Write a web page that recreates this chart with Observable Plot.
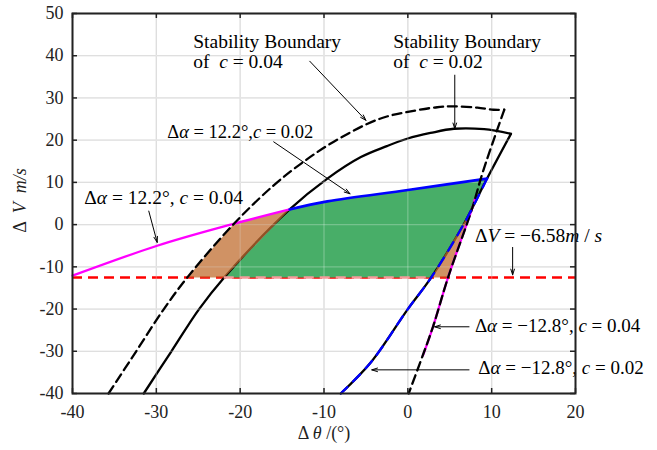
<!DOCTYPE html>
<html><head><meta charset="utf-8">
<script src="https://cdn.jsdelivr.net/npm/d3@7"></script>
<script src="https://cdn.jsdelivr.net/npm/@observablehq/plot@0.6"></script>
<style>
body{margin:0;background:#fff;}
svg text{white-space:pre;}
</style></head><body><div id="chart"></div>
<script>
const xTicks = [-40,-30,-20,-10,0,10,20];
const yTicks = [-40,-30,-20,-10,0,10,20,30,40,50];
const deltaV = -12.5;

// stability boundary c = 0.02 (solid): left branch + top arc, then right branch
const bound02ArcX = [-31.5,-28.2,-24.9,-21.9,-14.1,-9.6,-5.6,-2.5,0,2.7,5.5,9.1,12.3];
const bound02ArcY = [-40,-30,-20,-12.5,3.6,10.9,16.0,18.6,20.4,21.7,22.7,22.6,21.5];
const bound02RightX = [12.3,9.45,6.7,2.8,0,-4.4,-8.0];
const bound02RightY = [21.5,10.9,0.2,-12.5,-20.0,-32.6,-40];
// stability boundary c = 0.04 (dashed)
const bound04ArcX = [-35.7,-32.4,-29.1,-26.3,-20.6,-16.0,-12.5,-9.2,-4.8,-2.5,0,3.5,5.5,8.3,10.2,11.5];
const bound04ArcY = [-40,-30,-20,-12.5,0.5,9.3,14.8,19.2,23.9,25.6,26.7,27.8,28.0,27.7,27.2,27.2];
const bound04RightX = [11.5,9.0,7.6,4.8,3.0,1.5,0.1];
const bound04RightY = [27.2,12.8,3.4,-12.5,-24.2,-32.5,-40];
// Δα = 12.2°, c = 0.04 (magenta)
const magTopX = [-40,-29.9,-21.5,-14.1];
const magTopY = [-12.1,-5.0,-0.2,3.6];
// Δα = 12.2°, c = 0.02 (blue)
const blueTopX = [-14.1,-9.6,0,9.45];
const blueTopY = [3.6,5.5,8.2,10.9];
// Δα = −12.8°, c = 0.04 (magenta)
const magRightX = [8.0,7.6,4.8,3.0,1.8];
const magRightY = [6.0,3.4,-12.5,-24.2,-31.0];
// Δα = −12.8°, c = 0.02 (blue)
const blueRightX = [9.45,6.7,2.8,0,-4.4,-8.0];
const blueRightY = [10.9,0.2,-12.5,-20,-32.6,-40];
// regions
const orangeLX = [-26.3,-20.6,-14.1,-21.9];
const orangeLY = [-12.5,0.5,3.6,-12.5];
const greenX = [-21.9,-14.1,-9.6,0,9.45,6.7,2.8];
const greenY = [-12.5,3.6,5.5,8.2,10.9,0.2,-12.5];
const orangeRX = [2.8,7.5,4.8];
const orangeRY = [-12.5,3.2,-12.5];

// annotations
const labelX = [-25.6,-25.6,-1.75,-1.75,-28.7,-38.6,8.0,8.0,8.4];
const labelY = [41.8,37.0,41.8,37.0,20.4,4.8,-4.2,-25.5,-35.4];
const labelText = ["Stability Boundary","of  {c} = 0.04","Stability Boundary","of  {c} = 0.02",
  "Δ{α} = 12.2°,{c} = 0.02","Δ{α} = 12.2°, {c} = 0.04","Δ{V} = −6.58{m} / {s}",
  "Δ{α} = −12.8°, {c} = 0.04","Δ{α} = −12.8°, {c} = 0.02"];
const labelSize = [19.5,19.5,19.5,19.5,18.5,19.5,19.5,19,19];
const arrowX1 = [-11.7,5.6,-16.0,-30.9,12.5,7.3,7.3];
const arrowY1 = [38.7,35.4,19.6,3.2,-5.4,-24.2,-34.4];
const arrowX2 = [-5.0,5.6,-6.9,-29.9,12.5,3.2,-4.3];
const arrowY2 = [24.7,22.7,7.3,-4.2,-11.9,-24.2,-34.4];

const pts = (xs, ys) => xs.map((x, i) => ({x, y: ys[i]}));
const labels = labelX.map((x, i) => ({x, y: labelY[i], t: labelText[i], s: labelSize[i]}));
const arrows = arrowX1.map((x1, i) => ({x1, y1: arrowY1[i], x2: arrowX2[i], y2: arrowY2[i]}));
const fmt = d => String(d);
const W = 657, H = 450, mL = 72, mR = 82, mT = 13, mB = 57;
const iw = W - mL - mR, ih = H - mT - mB;
const cr = "catmull-rom";

const chart = Plot.plot({
  width: W, height: H,
  marginLeft: mL, marginRight: mR, marginTop: mT, marginBottom: mB,
  x: {domain: [-40, 20]},
  y: {domain: [-40, 50]},
  style: {fontFamily: "'Liberation Serif', serif", fontSize: "18px", background: "white", color: "#222"},
  marks: [
    Plot.ruleX(xTicks, {stroke: "#d4d4d4", strokeWidth: 1.3}),
    Plot.ruleY(yTicks, {stroke: "#d4d4d4", strokeWidth: 1.3}),
    Plot.ruleY([deltaV], {stroke: "#ff0000", strokeWidth: 2.5, strokeDasharray: "10,6"}),
    Plot.line(pts(greenX, greenY), {x: "x", y: "y", fill: "#48ae68", stroke: "none"}),
    Plot.line(pts(bound02ArcX, bound02ArcY), {x: "x", y: "y", stroke: "#000", strokeWidth: 2.3, curve: cr}),
    Plot.line(pts(bound02RightX, bound02RightY), {x: "x", y: "y", stroke: "#000", strokeWidth: 2.3, curve: cr}),
    Plot.line(pts(orangeLX, orangeLY), {x: "x", y: "y", fill: "#c06e30", fillOpacity: 0.75, stroke: "none"}),
    Plot.line(pts(orangeRX, orangeRY), {x: "x", y: "y", fill: "#c06e30", fillOpacity: 0.75, stroke: "none"}),
    Plot.ruleX(xTicks, {stroke: "#fff", strokeOpacity: 0.25, strokeWidth: 1.3}),
    Plot.ruleY(yTicks, {stroke: "#fff", strokeOpacity: 0.25, strokeWidth: 1.3}),
    Plot.ruleY([deltaV], {x1: greenX[0], x2: greenX[greenX.length - 1], stroke: "#f59a9a", strokeWidth: 2.5, strokeDasharray: "10,6"}),
    Plot.line(pts(magTopX, magTopY), {x: "x", y: "y", stroke: "#ff00ff", strokeWidth: 2.3, curve: cr}),
    Plot.line(pts(blueTopX, blueTopY), {x: "x", y: "y", stroke: "#0000ff", strokeWidth: 2.6, curve: cr}),
    Plot.line(pts(magRightX, magRightY), {x: "x", y: "y", stroke: "#ff00ff", strokeWidth: 2.3, curve: cr}),
    Plot.line(pts(bound04ArcX, bound04ArcY), {x: "x", y: "y", stroke: "#000", strokeWidth: 2.3, strokeDasharray: "9,5", curve: cr}),
    Plot.line(pts(bound04RightX, bound04RightY), {x: "x", y: "y", stroke: "#000", strokeWidth: 2.3, strokeDasharray: "9,5", curve: cr}),
    Plot.line(pts(blueRightX, blueRightY), {x: "x", y: "y", stroke: "#0000ff", strokeWidth: 2.3, strokeDasharray: "10,8", curve: cr}),
    Plot.arrow(arrows, {x1: "x1", y1: "y1", x2: "x2", y2: "y2", stroke: "#000", strokeWidth: 1, headLength: 9, headAngle: 35}),
    Plot.text(labels, {x: "x", y: "y", text: "t", textAnchor: "start", lineAnchor: "bottom", fill: "#000", fontSize: "s"}),
    Plot.frame({stroke: "#222", strokeWidth: 2}),
    Plot.ruleX(xTicks, {stroke: "#222", strokeWidth: 1.5, insetTop: ih - 5}),
    Plot.ruleX(xTicks, {stroke: "#222", strokeWidth: 1.5, insetBottom: ih - 5}),
    Plot.ruleY(yTicks, {stroke: "#222", strokeWidth: 1.5, insetRight: iw - 5}),
    Plot.ruleY(yTicks, {stroke: "#222", strokeWidth: 1.5, insetLeft: iw - 5}),
    Plot.axisX(xTicks, {tickSize: 0, tickPadding: 12, tickFormat: fmt, label: null, fontSize: 18}),
    Plot.axisY(yTicks, {tickSize: 0, tickPadding: 9, tickFormat: fmt, label: null, fontSize: 18}),
    Plot.text(["Δ {θ} /(°)"], {frameAnchor: "bottom", dy: 45, lineAnchor: "bottom", fill: "#222", fontSize: 18}),
    Plot.text(["Δ  {V}  {m/s}"], {frameAnchor: "left", rotate: -90, dx: -52, dy: -3, lineAnchor: "middle", textAnchor: "middle", fill: "#222", fontSize: 18})
  ]
});

d3.select(chart).selectAll("text").each(function() {
  const s = this.textContent;
  if (!s.includes("{")) return;
  const el = d3.select(this);
  el.text(null);
  s.split(/(\{[^}]*\})/).forEach(part => {
    if (!part) return;
    if (part.startsWith("{")) el.append("tspan").attr("font-style", "italic").text(part.slice(1, -1));
    else el.append("tspan").text(part);
  });
});

document.getElementById("chart").appendChild(chart);
</script></body></html>
